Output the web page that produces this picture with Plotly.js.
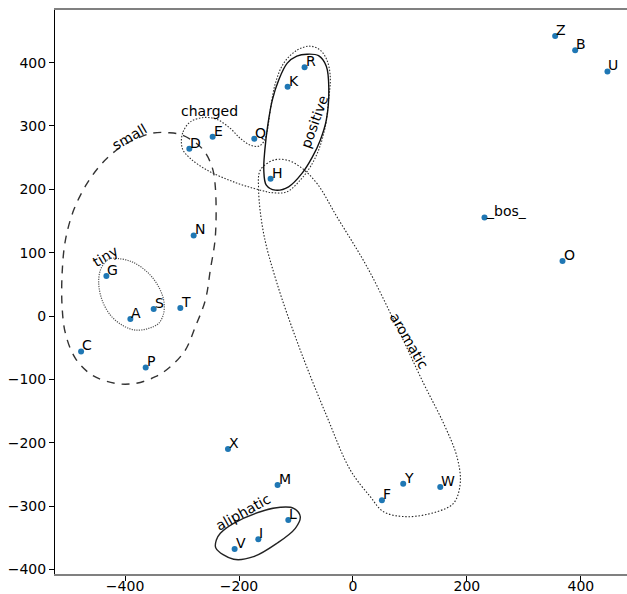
<!DOCTYPE html>
<html>
<head>
<meta charset="utf-8">
<script src="https://cdn.plot.ly/plotly-3.0.1.min.js"></script>
<style>
html,body{margin:0;padding:0;background:#fff;}
#chart{width:627px;height:594px;}
</style>
</head>
<body>
<div id="chart"></div>
<script>
// ---- token embedding points ----
const labels = ['R','K','E','D','Q','H','N','G','Z','B','U','_bos_','O','A','S','T','C','P','X','M','L','I','V','F','Y','W'];
const xs = [-84.9,-114.7,-246.3,-287.2,-173.2,-144.6,-279.6,-432.8,354.9,390,446.7,230.9,367.8,-390.7,-349.8,-303,-477.2,-363.8,-219.4,-132.3,-113.5,-166.1,-207.7,50.8,88.2,153.2];
const ys = [392.7,361.7,282.8,263.9,279.7,216.6,127.3,63.1,442,419.6,386,155.7,86.8,-4.7,11,12.6,-55.7,-81,-209.8,-266.6,-321.8,-352.2,-367.5,-290.7,-264.5,-269.7];

// ---- group outlines (control points) ----
const smallX = [-352.1,-324.0,-299.5,-264.9,-247.4,-241.6,-241.6,-250.4,-259.1,-276.7,-294.2,-320.5,-346.8,-381.9,-417,-457.9,-487.2,-504.7,-510.5,-510.5,-504.7,-490.2,-466.7,-440.4,-411.2,-381.9];
const smallY = [288.6,289.4,285.5,264.5,235.5,203.9,125.1,72.6,25.2,-16.9,-53.6,-80,-95.7,-106.2,-106.2,-93.1,-66.7,-27.3,14.7,67.3,119.9,167.2,209.3,240.9,264.5,279.2];

const tinyX = [-414.0,-387.7,-358.6,-341.1,-332.3,-332.3,-341.1,-358.6,-381.9,-405.3,-425.8,-440.4,-446.3,-443.3,-434.6,-425.8];
const tinyY = [91.0,85.6,67.4,46.2,25.2,4.3,-11.5,-19.4,-22.1,-14.2,1.6,25.2,51.6,72.6,85.6,91.0];

const chargedX = [-301.2,-298.2,-285.4,-262.1,-238.6,-215.3,-197.7,-180.2,-165.6,-156.8,-150.9,-145.1,-136.3,-121.8,-98.2,-74.9,-57.4,-45.6,-39.8,-42.8,-48.6,-60.4,-74.9,-92.5,-115.8,-139.3,-162.6,-209.5,-256.1,-285.4,-298.2];
const chargedY = [274.9,290.7,306.5,313.4,310.3,296.1,280.4,269.8,268.1,274.9,290.7,324.9,367.0,398.6,419.6,425.9,419.6,403.8,377.5,340.7,298.6,261.8,235.5,214.5,196.1,194.5,198.7,211.8,230.3,248.7,261.8];

const positiveX = [-80.7,-60.4,-46.8,-42.4,-46.8,-57.4,-71.4,-89.5,-113.0,-136.3,-152.1,-156.5,-154.7,-149.5,-141.6,-130.5,-115.3,-98.6];
const positiveY = [413.2,410.9,394.3,359.6,309.2,277.6,250.8,225.1,204.0,198.7,206.6,230.3,261.8,301.3,340.7,372.2,399.1,410.1];

const aromaticX = [-115.8,-139.3,-162.6,-165.6,-156.8,-133.3,-92.5,-45.6,-4.7,30.4,53.7,94.7,147.4,176.5,188.3,182.5,159.0,123.9,77.2,24.6,-28.1,-63.2,-92.5];
const aromaticY = [246.1,246.1,230.3,198.7,130.4,51.6,-53.6,-158.8,-242.9,-285.0,-308.7,-316.6,-308.7,-295.4,-263.9,-221.9,-169.2,-106.2,-16.9,77.8,156.6,209.3,235.5];

const aliphaticX = [-239.8,-232.8,-209.5,-162.6,-127.5,-104.2,-92.5,-101.2,-133.3,-174.4,-209.5,-240.7];
const aliphaticY = [-353.3,-342.7,-327.0,-308.7,-301.7,-303.3,-316.6,-334.9,-358.5,-379.7,-383.8,-365.9];

// ---- group names ----
const groupNames  = ['small','tiny','charged','positive','aromatic','aliphatic'];
const groupLabelX = [-392.4,-433.7,-252.1,-67.9,98.8,-192.5];
const groupLabelY = [282.3,94.6,323.3,306.5,-39.4,-308.7];
const groupAngle  = [-30,-31,0,-70,60,-29];

const xTicks = [-400,-200,0,200,400];
const yTicks = [-400,-300,-200,-100,0,100,200,300,400];

function closed(a){ return a.concat([a[0]]); }
function outline(x, y, color, dash, width){
  return {x: closed(x), y: closed(y), type:'scatter', mode:'lines',
    line:{shape:'spline', smoothing:1, color:color, dash:dash, width:width},
    hoverinfo:'skip', showlegend:false};
}

const traces = [
  outline(smallX, smallY, '#333333', '8px,7px', 1.4),
  outline(tinyX, tinyY, '#555555', '1.2px,1.2px', 1.2),
  outline(chargedX, chargedY, '#333333', '1.5px,1.6px', 1.1),
  outline(positiveX, positiveY, '#111111', 'solid', 1.4),
  outline(aromaticX, aromaticY, '#222222', '1.5px,1.8px', 1.1),
  outline(aliphaticX, aliphaticY, '#222222', 'solid', 1.4),
  {x: xs, y: ys, type:'scatter', mode:'markers',
   marker:{color:'#1f77b4', size:6}, showlegend:false, hoverinfo:'skip'}
];

const font = {family:'DejaVu Sans, sans-serif', size:14, color:'#000'};
const annotations = [];
labels.forEach((t,i)=>{
  annotations.push({x: xs[i], y: ys[i], text: t, showarrow:false,
    xanchor:'left', yanchor:'bottom', xshift:-1, yshift:-4, font:font});
});
groupNames.forEach((t,i)=>{
  annotations.push({x: groupLabelX[i], y: groupLabelY[i], text: t, showarrow:false,
    xanchor:'center', yanchor:'middle', textangle: groupAngle[i], font:font});
});

const layout = {
  width:627, height:594,
  margin:{l:55, r:0, t:10, b:20},
  paper_bgcolor:'#fff', plot_bgcolor:'#fff',
  font: font,
  showlegend:false,
  xaxis:{range:[-523,481], tickvals:xTicks, ticks:'outside', ticklen:5, tickwidth:1, tickcolor:'#000',
         showgrid:false, zeroline:false, showline:true, linecolor:'#808080', linewidth:2, mirror:true,
         tickfont:font, ticklabelstandoff:-7},
  yaxis:{range:[-407,483], tickvals:yTicks, ticks:'outside', ticklen:5, tickwidth:1, tickcolor:'#000',
         showgrid:false, zeroline:false, showline:true, linecolor:'#000', linewidth:1,
         tickfont:font},
  annotations: annotations
};

Plotly.newPlot('chart', traces, layout, {displayModeBar:false, staticPlot:true});
</script>
</body>
</html>
